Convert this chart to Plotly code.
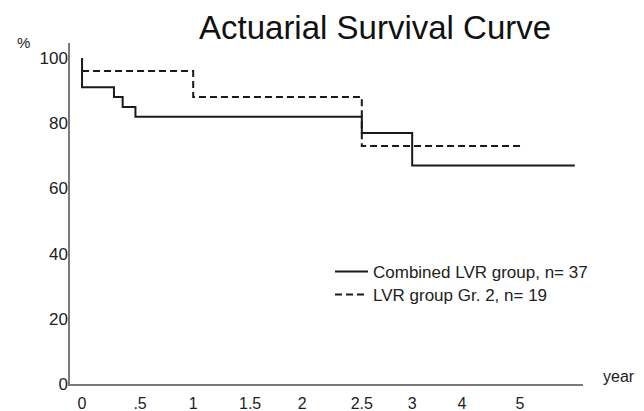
import numpy as np
import plotly.graph_objects as go

# Axis ticks: the original x axis is not to scale; axis_pos gives where
# each tick year sits along the drawn axis
tick_years = [0, 0.5, 1, 1.5, 2, 2.5, 3, 4, 5, 6]
axis_pos = [0, 1.06, 2.03, 3.07, 4.02, 5.11, 6.03, 6.94, 8.0, 9.0]
tick_labels = ["0", ".5", "1", "1.5", "2", "2.5", "3", "4", "5"]
y_ticks = [0, 20, 40, 60, 80, 100]

# Series (years, survival %)
combined_years = [0, 0, 0.275, 0.35, 0.46, 2.5, 3, 6.1]
combined_surv = [100, 91, 88, 85, 82, 77, 67, 67]
gr2_years = [0, 1, 2.5, 5]
gr2_surv = [96, 88, 73, 73]


def to_axis(years):
    return np.interp(years, tick_years, axis_pos)


FONT = "Liberation Sans, Arial, Helvetica, sans-serif"

# page body has an 8px default margin, so the figure is 8px smaller
W, H = 636, 403
L, T, R, B = 62, 35, 61, 27
PW, PH = W - L - R, H - T - B

fig = go.Figure()
fig.add_trace(go.Scatter(
    x=to_axis(combined_years), y=combined_surv, mode="lines",
    line=dict(shape="hv", color="#1a1a1a", width=2),
    name="Combined LVR group, n= 37", legend="legend"))
fig.add_trace(go.Scatter(
    x=to_axis(gr2_years), y=gr2_surv, mode="lines",
    line=dict(shape="hv", color="#1a1a1a", width=2, dash="7px,4px"),
    name="LVR group Gr. 2, n= 19", legend="legend2"))

leg_common = dict(xanchor="left", yanchor="top",
                  font=dict(size=17, color="#222"), itemwidth=33,
                  bgcolor="rgba(0,0,0,0)")
leg_x = (330 - 8 - L) / PW

fig.update_layout(
    width=W, height=H,
    margin=dict(l=L, r=R, t=T, b=B, autoexpand=False),
    paper_bgcolor="white", plot_bgcolor="white",
    font=dict(family=FONT, color="#222", size=16),
    showlegend=True,
    legend=dict(x=leg_x, y=(376 - 246) / PH, **leg_common),
    legend2=dict(x=leg_x, y=(376 - 269) / PH, **leg_common),
    xaxis=dict(range=[-0.22, 9.15], tickmode="array",
               tickvals=axis_pos[:len(tick_labels)], ticktext=tick_labels,
               showgrid=False, zeroline=False, showline=True,
               linecolor="#7a7a7a", linewidth=1.5, automargin=False,
               ticks="outside", ticklen=4, tickcolor="rgba(0,0,0,0)",
               tickfont=dict(size=16, color="#222")),
    yaxis=dict(range=[0, 104.6], tickmode="array", tickvals=y_ticks,
               showgrid=False, zeroline=False, showline=True,
               linecolor="#7a7a7a", linewidth=1.5, automargin=False,
               ticks="", ticklabelstandoff=-3,
               tickfont=dict(size=17, color="#222")),
    annotations=[
        dict(text="Actuarial Survival Curve", xref="paper", yref="paper",
             x=(375 - 8 - L) / PW, y=1 + (T - 19) / PH, xanchor="center",
             yanchor="middle", showarrow=False,
             font=dict(size=33, color="#111")),
        dict(text="%", xref="paper", yref="paper", x=(23 - 8 - L) / PW,
             y=1 + (T - 34) / PH, xanchor="center", yanchor="middle",
             showarrow=False, font=dict(size=15, color="#222")),
        dict(text="year", xref="paper", yref="paper", x=(619 - 8 - L) / PW,
             y=(376 - 368) / PH, xanchor="center", yanchor="middle",
             showarrow=False, font=dict(size=16, color="#222")),
    ],
)

fig.write_html("out.html")
